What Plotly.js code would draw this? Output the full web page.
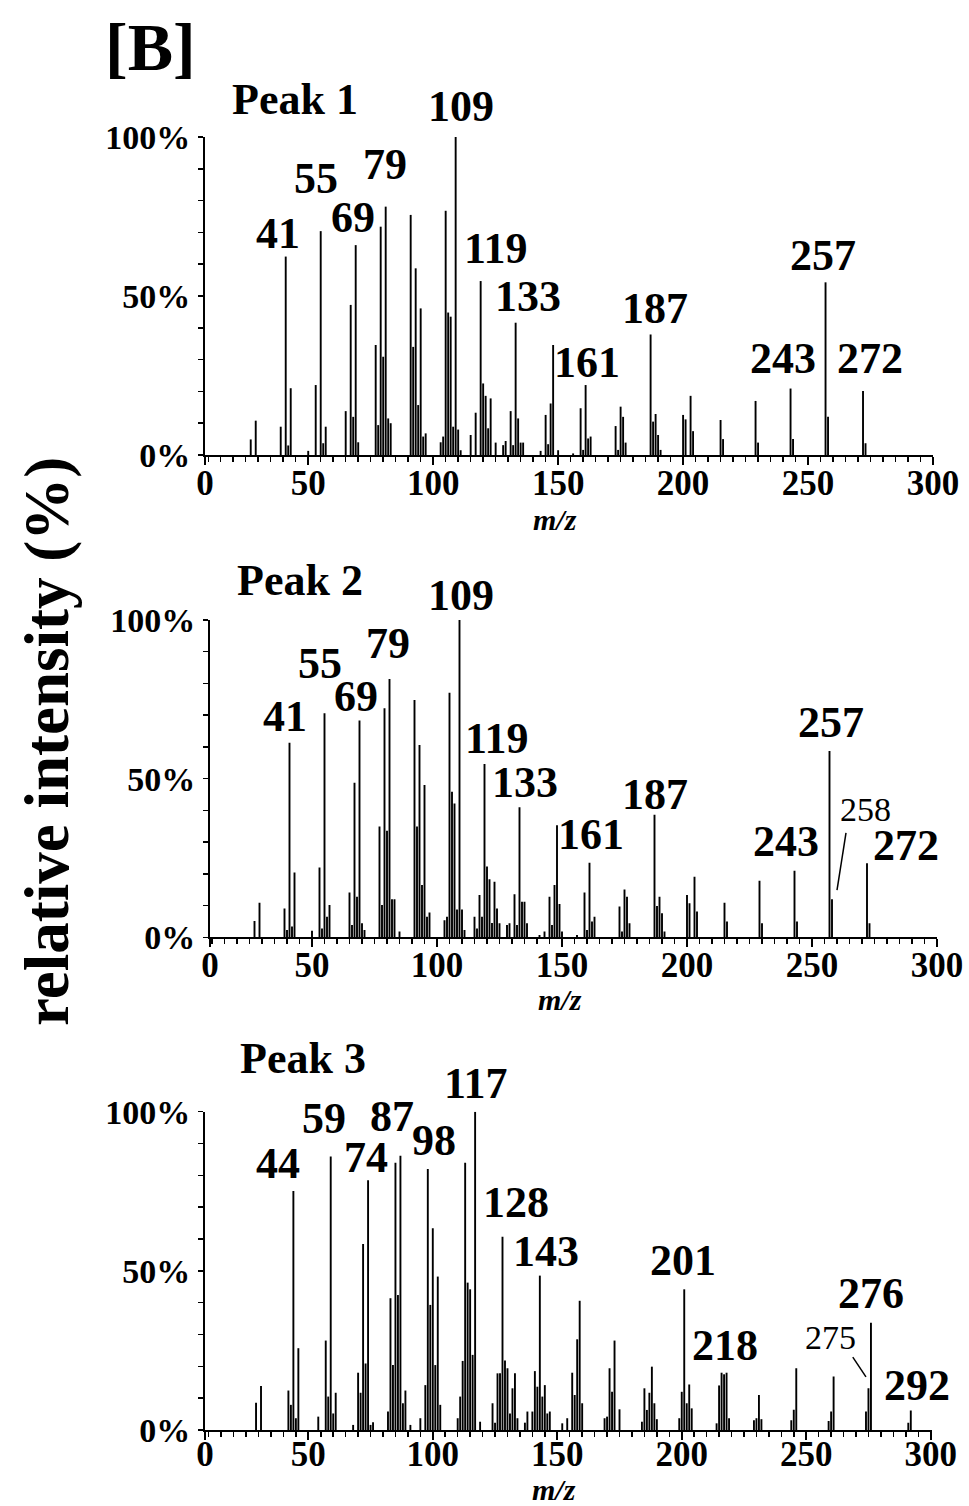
<!DOCTYPE html>
<html><head><meta charset="utf-8">
<script src="https://cdn.plot.ly/plotly-3.0.1.min.js"></script>
<style>body{margin:0;background:#fff}#chart{width:969px;height:1506px}</style>
</head><body><div id="chart"></div>
<script>
// ---------- data ----------
const peak1Mz  = [27,29,39,41,42,43,50,53,55,56,57,65,67,68,69,70,77,78,79,80,81,82,83,91,92,93,94,95,96,97,103,104,105,106,107,108,109,110,111,115,117,119,120,121,122,123,125,128,129,131,132,133,134,135,136,143,145,146,147,148,150,156,159,160,161,162,163,173,174,175,176,177,187,188,189,190,191,200,201,203,204,215,216,229,230,243,244,257,258,272,273];
const peak1Int = [4.9,10.8,8.9,62.4,3,21,1.3,22,70.4,3.7,8.9,13.8,47.2,12,66,4,34.6,9.4,71.8,30.9,78.1,11.5,10,75.5,34,58.7,15.7,46.1,5.8,6.8,4,5.8,76.8,44.8,43.5,8.9,100,8,1.5,6.3,13.3,54.7,22.5,18.6,8.4,17.8,3.9,3.1,4.4,13.8,3.1,41.6,11.5,3.9,3.9,1.3,12.6,3.4,16.2,34.6,1.5,0.5,14.7,1.6,22,5.2,5.8,9.1,1.6,15.2,12,3.9,37.9,10.5,12.9,6.3,1.6,12.6,11.2,18.6,7.5,11,5,17,3.9,20.9,5,54.3,12,20.1,3.7];

const peak2Mz  = [27,29,39,40,41,42,43,50,53,54,55,56,57,65,66,67,68,69,70,71,77,78,79,80,81,82,83,85,91,92,93,94,95,96,97,103,104,105,106,107,108,109,110,111,115,116,117,118,119,120,121,122,123,124,125,128,129,131,132,133,134,135,136,141,143,145,146,147,148,149,150,156,159,160,161,162,163,173,174,175,176,177,187,188,189,190,191,200,201,203,204,215,216,229,230,243,244,257,258,272,273];
const peak2Int = [5.1,10.9,9.1,2.3,61.3,3.4,20.4,2.1,22,2.8,70.6,6.5,10.2,14.1,3.9,48.7,12.8,68.3,4.4,2.3,34.9,10.2,72.2,33.6,81.4,12,12,1.8,74.8,34.9,60.6,16.5,48,6.5,7.8,5.4,6.5,77.1,45.9,42.2,8.8,100,8.8,2.3,6.5,2.8,13.3,6.5,54.6,22.3,18.3,4.5,17.5,9.1,4.4,3.9,4.4,13.6,3.9,41,11.2,11.2,4.4,0.7,1.8,12.8,3.9,16.5,35.3,10.5,1.8,0.7,14.1,2.3,23.5,5,6.5,9.7,1.8,15.1,12.8,4.4,38.6,9.9,12.8,7.6,1.8,13.3,10.7,19.1,8.1,10.9,5,17.8,4.4,21,5,58.7,12,23.3,4.4];

const peak3Mz  = [29,31,42,43,44,45,46,54,57,58,59,60,61,68,70,71,72,73,74,75,76,82,83,84,85,86,87,88,89,91,95,97,98,99,100,101,102,103,110,111,112,113,114,115,116,117,119,124,125,126,127,128,129,130,131,132,133,134,137,138,140,141,142,143,144,145,146,147,152,154,156,157,158,159,160,169,170,171,172,173,175,184,185,186,187,188,189,190,199,200,201,202,203,204,214,215,216,217,218,219,229,230,231,232,244,245,246,259,260,261,274,275,276,291,292];
const peak3Int = [8.6,13.8,12.4,7.9,75.1,3.7,25.7,4.2,28.1,10.5,85.9,5.2,11.7,1.6,18,11.7,58.4,20.9,78.5,1.6,2.4,5.8,41.4,20.4,84,42.4,86.2,8.4,12.4,1.6,3.7,14.1,82,39.3,63.4,20.4,48.2,7.9,3.7,10.5,21.7,84,46.3,44.2,23.6,100,2.6,8.4,2.3,17.8,17.8,60.7,21.8,19.4,5.2,13.1,17.8,3.7,2.3,5.8,5.8,18.5,13.6,48.5,10.5,14.1,5.2,5.8,2.1,3.7,18,11,28.5,40.6,8.4,3.7,4.2,19.4,12,28.1,6.5,2.6,13.1,6.3,11.7,19.9,8.4,3.4,3.7,12,44.2,8.4,14.3,6.8,2.1,14,18,17.5,18,3.7,3.1,3.7,11,3.4,3.1,6.4,19.4,2.8,5.8,16.8,5.8,13.1,33.7,2.3,6.1];

const panelTitles = ['Peak 1','Peak 2','Peak 3'];
const peak1Labels = ['41','55','69','79','109','119','133','161','187','243','257','272'];
const peak2Labels = ['41','55','69','79','109','119','133','161','187','243','257','272'];
const peak2Minor  = ['258'];
const peak3Labels = ['44','59','74','87','98','117','128','143','201','218','276','292'];
const peak3Minor  = ['275'];
const xTickVals = [50,100,150,200,250,300];
const xTickText = ['50','100','150','200','250','300'];
const xZeroText = '0';
const yTickVals = [0,50,100];
const yTickText = ['0%','50%','100%'];
const yTitle = 'relative intensity (%)';
const xTitle = 'm/z';
const figLabel = '[B]';

// ---------- layout helpers ----------
const FONT = 'Liberation Serif, Times New Roman, serif';
const W = 969, H = 1506;
function stems(mz, inten){
  const x=[], y=[];
  mz.forEach((m,i)=>{ x.push(m,m,null); y.push(0,inten[i],null); });
  return {x,y};
}
const panels = [
  {mz:peak1Mz, it:peak1Int, px:[205,933], py:[455,137], range:[8.7,300], xt:519, so:-12},
  {mz:peak2Mz, it:peak2Int, px:[210,937], py:[937.3,620], range:[9.2,300], xt:999, so:-12},
  {mz:peak3Mz, it:peak3Int, px:[205,931.7], py:[1430,1111.7], range:[8.5,300.4], xt:1489, so:-16}
];
// label placements: [x (m/z), y (%), vertical pixel shift]
const labelPos = [
  [[37.9,69.8,0],[53.1,86.8,0],[67.9,74.8,0],[80.7,91.2,0],[111.1,100,31],[125.1,64.8,0],[137.9,50,0],[161.5,29.2,0],[188.7,46,0],[239.9,30.2,0],[255.9,62.6,0],[274.7,30.2,0]],
  [[39.2,69.7,0],[53.2,86.4,0],[67.6,76,0],[80.4,92.7,0],[109.6,100,25],[124,62.8,0],[135.2,48.9,0],[161.6,32.5,0],[187.2,45.1,0],[239.6,30.3,0],[257.6,67.8,0],[287.6,28.8,0]],
  [[37.8,83.6,0],[56.3,97.8,0],[73.2,85.6,0],[83.6,98.4,0],[100.4,90.8,0],[117.4,100,28],[133.4,71.6,0],[145.4,56.2,0],[200.5,53.1,0],[217.4,26.7,0],[276,43,0],[294.4,14,0]]
];
const allLabels = [peak1Labels, peak2Labels, peak3Labels];

const data = [];
const layout = {
  width:W, height:H, margin:{l:0,r:0,t:0,b:0},
  paper_bgcolor:'#fff', plot_bgcolor:'#fff', showlegend:false,
  font:{family:FONT, color:'#000'},
  annotations:[], shapes:[]
};
panels.forEach((p,i)=>{
  const n = i===0?'':String(i+1);
  const s = stems(p.mz,p.it);
  data.push({type:'scatter', mode:'lines', x:s.x, y:s.y, xaxis:'x'+n, yaxis:'y'+n,
    line:{color:'#000', width:1.9}, connectgaps:false, hoverinfo:'skip'});
  layout['xaxis'+n] = {
    domain:[p.px[0]/W, p.px[1]/W], range:p.range, anchor:'y'+n,
    tickmode:'array', tickvals:[p.range[0]].concat(xTickVals), ticktext:[xZeroText].concat(xTickText),
    ticks:'outside', ticklen:8, tickwidth:2, tickcolor:'#000', ticklabelstandoff:p.so,
    showline:true, linewidth:2, linecolor:'#000', showgrid:false, zeroline:false,
    minor:{tick0:0, dtick:5, ticks:'outside', ticklen:5, tickwidth:1.5, tickcolor:'#000', showgrid:false},
    tickfont:{family:FONT, size:35, weight:'bold', color:'#000'}
  };
  layout['yaxis'+n] = {
    domain:[1-p.py[0]/H, 1-p.py[1]/H], range:[0,100], anchor:'x'+n,
    tickmode:'array', tickvals:yTickVals, ticktext:yTickText,
    ticks:'outside', ticklen:5, tickwidth:1.5, tickcolor:'#000', ticklabelstandoff:1,
    showline:true, linewidth:2, linecolor:'#000', showgrid:false, zeroline:false,
    minor:{dtick:10, ticks:'outside', ticklen:5, tickwidth:1.5, tickcolor:'#000', showgrid:false},
    tickfont:{family:FONT, size:34, weight:'bold', color:'#000'}
  };
  allLabels[i].forEach((t,j)=>{
    const lp = labelPos[i][j];
    layout.annotations.push({xref:'x'+n, yref:'y'+n, x:lp[0], y:lp[1], yshift:lp[2],
      text:t, showarrow:false, xanchor:'center', yanchor:'middle',
      font:{family:FONT, size:44, weight:'bold', color:'#000'}});
  });
  // x axis title
  layout.annotations.push({xref:'paper', yref:'paper', x:((p.px[0]+p.px[1])/2 - 14)/W, y:1-p.xt/H,
    xanchor:'center', yanchor:'middle', showarrow:false, borderpad:0,
    text:'<b><i>'+xTitle+'</i></b>', font:{family:FONT, size:30, color:'#000'}});
  // panel title
  const titleY = [100,580,1058][i], titleX=[230,235,238][i];
  layout.annotations.push({xref:'paper', yref:'paper', x:titleX/W, y:1-titleY/H, xanchor:'left', yanchor:'middle',
    text:panelTitles[i], showarrow:false, font:{family:FONT, size:44, weight:'bold', color:'#000'}});
});
// minor labels with leader lines
layout.annotations.push({xref:'x2', yref:'y2', x:271.2, y:40.4, text:peak2Minor[0], showarrow:false,
  font:{family:FONT, size:34, color:'#000'}});
layout.shapes.push({type:'line', xref:'x2', yref:'y2', x0:263.6, y0:32.9, x1:260.0, y1:14.9, line:{color:'#000', width:1.5}});
layout.annotations.push({xref:'x3', yref:'y3', x:259.9, y:29.2, text:peak3Minor[0], showarrow:false,
  font:{family:FONT, size:34, color:'#000'}});
layout.shapes.push({type:'line', xref:'x3', yref:'y3', x0:268.7, y0:22.9, x1:274.0, y1:16.7, line:{color:'#000', width:1.5}});
// figure label and y title
layout.annotations.push({xref:'paper', yref:'paper', x:103/W, y:1-47/H, xanchor:'left', yanchor:'middle',
  text:figLabel, showarrow:false, font:{family:FONT, size:68, weight:'bold', color:'#000'}});
layout.annotations.push({xref:'paper', yref:'paper', x:47/W, y:1-742/H, xanchor:'center', yanchor:'middle',
  text:yTitle, textangle:-90, showarrow:false, font:{family:FONT, size:63, weight:'bold', color:'#000'}});

Plotly.newPlot('chart', data, layout, {staticPlot:true, displayModeBar:false});
</script>
</body></html>
